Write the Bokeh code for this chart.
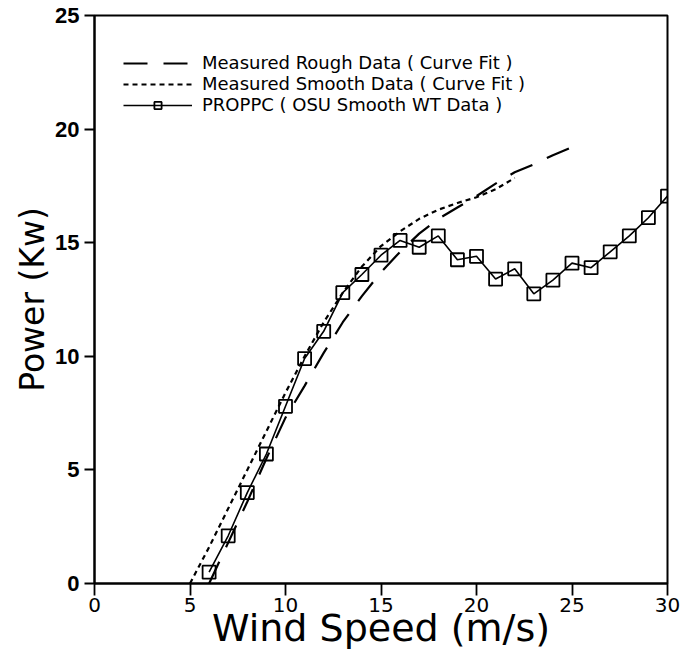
from bokeh.plotting import figure
from bokeh.models import FixedTicker, Legend, LegendItem, Range1d
from bokeh.embed import file_html
from bokeh.resources import INLINE

# ---- data ----
rough_x = [6, 7, 8, 9, 10, 11, 12, 13, 14, 15, 16, 17, 18, 19, 20, 21, 22, 23, 24, 25]
rough_y = [0.0, 1.8, 3.6, 5.5, 7.3, 8.7, 10.15, 11.5, 12.65, 13.7, 14.6, 15.4, 16.05,
           16.55, 17.05, 17.6, 18.1, 18.45, 18.85, 19.2]

smooth_x = [5, 6, 7, 8, 9, 10, 11, 12, 13, 14, 15, 16, 17, 18, 19, 20, 21, 22]
smooth_y = [0.0, 1.6, 3.3, 5.0, 6.7, 8.4, 10.0, 11.5, 12.8, 13.95, 14.85, 15.5, 16.05,
            16.45, 16.75, 17.0, 17.35, 17.85]

proppc_x = [6, 7, 8, 9, 10, 11, 12, 13, 14, 15, 16, 17, 18, 19, 20, 21, 22, 23, 24, 25,
            26, 27, 28, 29, 30]
proppc_y = [0.5, 2.1, 4.0, 5.7, 7.8, 9.9, 11.1, 12.8, 13.6, 14.45, 15.1, 14.8, 15.3, 14.25,
            14.4, 13.4, 13.85, 12.75, 13.35, 14.1, 13.9, 14.6, 15.3, 16.1, 17.05]

x_ticks = [0, 5, 10, 15, 20, 25, 30]
y_ticks = [0, 5, 10, 15, 20, 25]

labels = ["Measured Rough Data ( Curve Fit )",
          "Measured Smooth Data ( Curve Fit )",
          "PROPPC ( OSU Smooth WT Data )"]

# ---- figure ----
p = figure(width=691, height=655, output_backend="svg", toolbar_location=None,
           x_range=Range1d(0, 30), y_range=Range1d(0, 25),
           min_border_left=94, min_border_top=15, min_border_right=24, min_border_bottom=72)
p.background_fill_color = "white"
p.border_fill_color = "white"
p.outline_line_color = "black"
p.outline_line_width = 2
p.xgrid.visible = False
p.ygrid.visible = False

r_rough = p.line(rough_x, rough_y, line_color="black", line_width=2.2, line_dash="24 16")
r_smooth = p.line(smooth_x, smooth_y, line_color="black", line_width=2.2, line_dash="5 4")
r_pl = p.line(proppc_x, proppc_y, line_color="black", line_width=1.6)
r_ps = p.scatter(proppc_x, proppc_y, marker="square", size=13, fill_color="white",
                 fill_alpha=0, line_color="black", line_width=1.8)

# axes
p.xaxis.ticker = FixedTicker(ticks=x_ticks)
p.yaxis.ticker = FixedTicker(ticks=y_ticks)
p.xaxis.minor_tick_line_color = None
p.yaxis.minor_tick_line_color = None
for ax in (p.xaxis, p.yaxis):
    ax.axis_line_color = "black"
    ax.axis_line_width = 2
    ax.major_tick_line_width = 1.8
    ax.major_tick_in = 0
    ax.major_label_text_color = "black"
    ax.axis_label_text_color = "black"
    ax.axis_label_text_font_style = "normal"

p.xaxis.major_tick_out = 12
p.xaxis.major_label_standoff = 2
p.xaxis.major_label_text_font = "DejaVu Sans"
p.xaxis.major_label_text_font_size = "20px"
p.xaxis.axis_label = "Wind Speed (m/s)"
p.xaxis.axis_label_text_font = "DejaVu Sans"
p.xaxis.axis_label_text_font_size = "38px"
p.xaxis.axis_label_standoff = -9

p.yaxis.major_tick_out = 10
p.yaxis.major_label_standoff = 5
p.yaxis.major_label_text_font = "Liberation Sans"
p.yaxis.major_label_text_font_style = "bold"
p.yaxis.major_label_text_font_size = "22px"
p.yaxis.axis_label = "Power (Kw)"
p.yaxis.axis_label_text_font = "DejaVu Sans"
p.yaxis.axis_label_text_font_size = "33px"
p.yaxis.axis_label_standoff = 0

renderer_sets = [[r_rough], [r_smooth], [r_pl, r_ps]]
legend_y = [510, 489, 468]
for lab, rs, ly in zip(labels, renderer_sets, legend_y):
    lg = Legend(items=[LegendItem(label=lab, renderers=rs)], location=(29, ly))
    lg.label_text_font = "DejaVu Sans"
    lg.label_text_font_size = "18px"
    lg.label_text_color = "black"
    lg.glyph_width = 69
    lg.glyph_height = 18
    lg.label_height = 18
    lg.label_standoff = 10
    lg.spacing = 0
    lg.padding = 0
    lg.margin = 0
    lg.border_line_color = None
    lg.background_fill_alpha = 0
    p.add_layout(lg)

open("out.html", "w").write(file_html(p, INLINE))
